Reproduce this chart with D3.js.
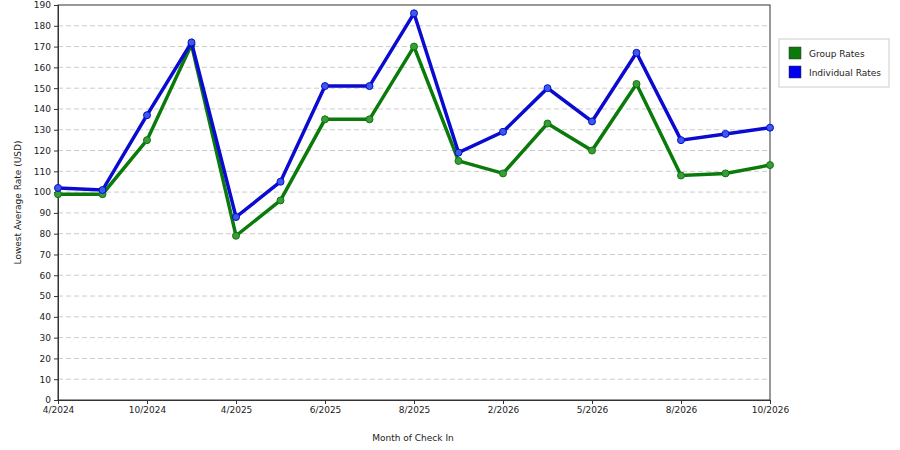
<!DOCTYPE html>
<html><head><meta charset="utf-8">
<script src="https://cdn.jsdelivr.net/npm/d3@7"></script>
<style>body{margin:0;background:#fff}text{font-family:"DejaVu Sans",sans-serif;font-size:9px;fill:#222}</style>
</head><body><svg id="c" width="900" height="450"></svg>
<script>
const months = ['4/2024','7/2024','10/2024','1/2025','4/2025','5/2025','6/2025','7/2025','8/2025','9/2025','2/2026','3/2026','5/2026','6/2026','8/2026','9/2026','10/2026'];
const tickLabels = ['4/2024','10/2024','4/2025','6/2025','8/2025','2/2026','5/2026','8/2026','10/2026'];
const groupRates = [99, 99, 125, 171, 79, 96, 135, 135, 170, 115, 109, 133, 120, 152, 108, 109, 113];
const individualRates = [102, 101, 137, 172, 88, 105, 151, 151, 186, 119, 129, 150, 134, 167, 125, 128, 131];
const series = [
  {name: 'Group Rates', values: groupRates, color: '#0a7a0a', dot: '#3c9a3c'},
  {name: 'Individual Rates', values: individualRates, color: '#0a0ad0', dot: '#3a5ae8'}
];

const svg = d3.select('#c');
const m = {l: 58, r: 770, t: 5, b: 400};
const x = d3.scalePoint().domain(d3.range(months.length)).range([m.l, m.r]);
const y = d3.scaleLinear().domain([0, 190]).range([m.b, m.t]);

// grid
svg.append('g').selectAll('line').data(d3.range(10, 190, 10)).join('line')
  .attr('x1', m.l).attr('x2', m.r).attr('y1', d => y(d)).attr('y2', d => y(d))
  .attr('stroke', '#ccc').attr('stroke-dasharray', '5,3');

svg.append('rect').attr('x', m.l).attr('y', m.t).attr('width', m.r - m.l).attr('height', m.b - m.t)
  .attr('fill', 'none').attr('stroke', '#333');

const yAxis = svg.append('g').attr('transform', `translate(${m.l},0)`)
  .call(d3.axisLeft(y).tickValues(d3.range(0, 191, 10)).tickSize(4));
const xAxis = svg.append('g').attr('transform', `translate(0,${m.b})`)
  .call(d3.axisBottom(x).tickValues(d3.range(0, months.length, 2)).tickSize(4)
    .tickFormat((d, i) => tickLabels[i]));
[yAxis, xAxis].forEach(a => {
  a.select('.domain').attr('stroke', '#333');
  a.selectAll('.tick line').attr('stroke', '#333');
  a.selectAll('text').attr('font-size', 9).attr('font-family', '"DejaVu Sans",sans-serif').attr('fill', '#222');
});

svg.append('text').attr('x', (m.l + m.r) / 2 - 1).attr('y', 441).attr('text-anchor', 'middle').text('Month of Check In');
svg.append('text').attr('transform', `translate(21,${(m.t + m.b) / 2}) rotate(-90)`).attr('text-anchor', 'middle').text('Lowest Average Rate (USD)');

const line = d3.line().x((d, i) => x(i)).y(d => y(d));
series.forEach(s => {
  svg.append('path').datum(s.values).attr('d', line).attr('fill', 'none')
    .attr('stroke', s.color).attr('stroke-width', 3.5);
  svg.append('g').selectAll('circle').data(s.values).join('circle')
    .attr('cx', (d, i) => x(i)).attr('cy', d => y(d)).attr('r', 3.5)
    .attr('fill', s.dot).attr('stroke', s.color).attr('stroke-width', 1);
});

// legend
const lg = svg.append('g').attr('transform', 'translate(779,39)');
lg.append('rect').attr('width', 110).attr('height', 48).attr('fill', '#fff').attr('stroke', '#ccc');
series.forEach((s, i) => {
  lg.append('rect').attr('x', 10).attr('y', 8 + i * 19).attr('width', 12).attr('height', 12)
    .attr('fill', s.color === '#0a7a0a' ? '#0a7a0a' : '#0000ee').attr('stroke', '#333').attr('stroke-width', 0.5);
  lg.append('text').attr('x', 30).attr('y', 18 + i * 19).text(s.name);
});
</script></body></html>
